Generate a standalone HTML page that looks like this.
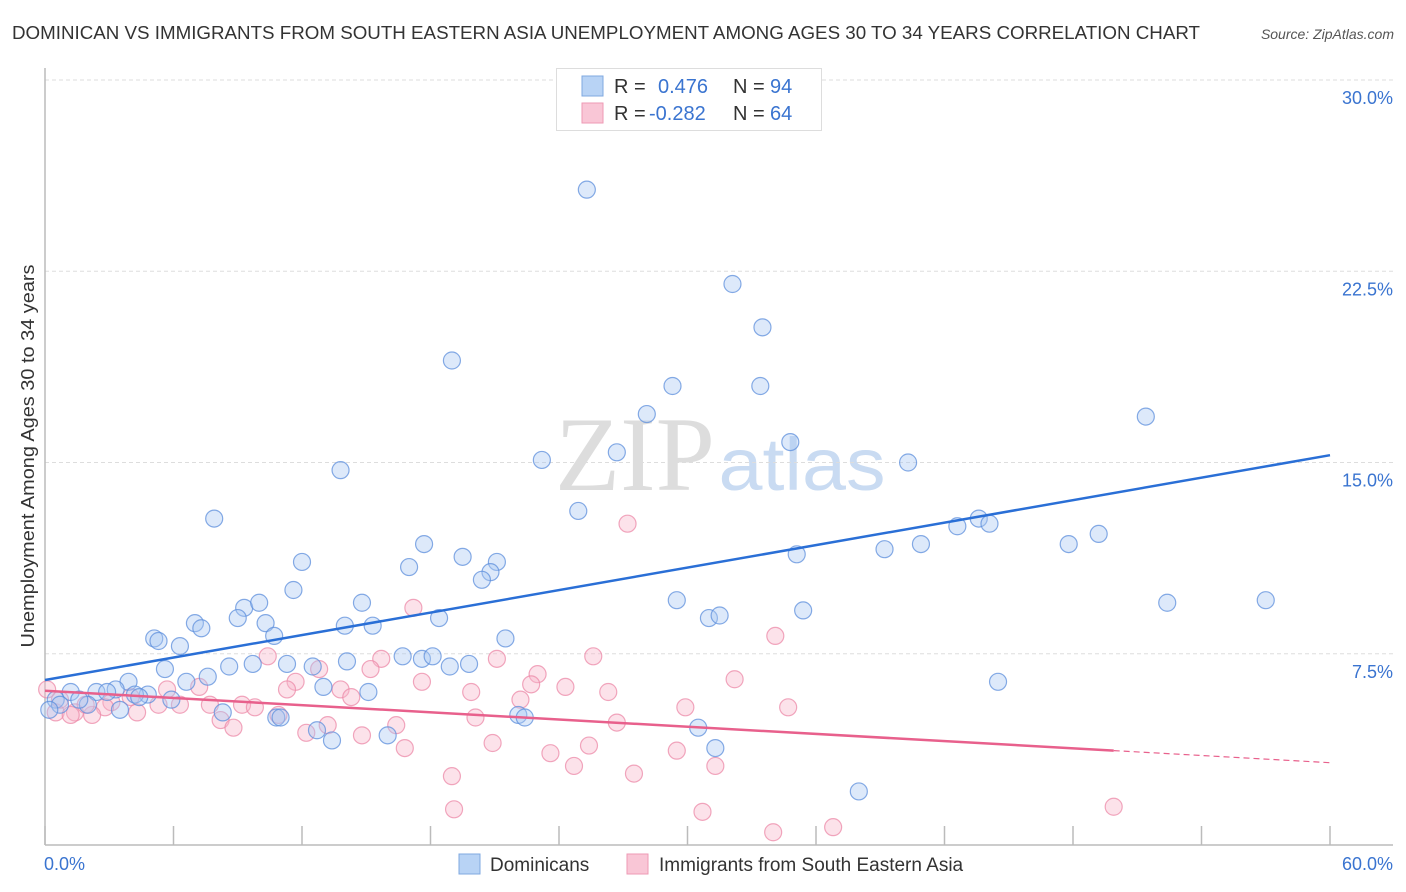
<!DOCTYPE html>
<html><head><meta charset="utf-8"><style>
body{margin:0;background:#fff;font-family:"Liberation Sans",sans-serif;}
svg{display:block}
</style></head><body>
<svg id="chart" width="1406" height="892" xmlns="http://www.w3.org/2000/svg">
<text x="12" y="39" font-size="18" textLength="1188" lengthAdjust="spacingAndGlyphs" fill="#333">DOMINICAN VS IMMIGRANTS FROM SOUTH EASTERN ASIA UNEMPLOYMENT AMONG AGES 30 TO 34 YEARS CORRELATION CHART</text>
<text x="1394" y="39" font-size="14" fill="#555" font-style="italic" text-anchor="end">Source: ZipAtlas.com</text>
<g>
<text x="635" y="490" font-size="106" textLength="160" lengthAdjust="spacingAndGlyphs" fill="#ddd" font-family="Liberation Serif, serif" text-anchor="middle">ZIP</text>
<text x="802" y="490" font-size="74" textLength="167" lengthAdjust="spacingAndGlyphs" fill="#c9dbf2" text-anchor="middle">atlas</text>
</g>
<g id="grid"></g>
<g id="axes"></g>
<g id="pts"></g>
<g id="lines"></g>
<text transform="translate(34,456) rotate(-90)" font-size="18" textLength="383" lengthAdjust="spacingAndGlyphs" fill="#333" text-anchor="middle">Unemployment Among Ages 30 to 34 years</text>
<g>
<rect x="556.5" y="68.5" width="265" height="62" fill="#fff" stroke="#ddd"/>
<rect x="582" y="76" width="21" height="20" fill="#b8d3f5" stroke="#7fa8e0"/>
<rect x="582" y="103" width="21" height="20" fill="#f9c6d6" stroke="#ee9ab4"/>
<text x="614" y="93" font-size="20" fill="#333">R =</text>
<text x="658" y="93" font-size="20" fill="#3a74d0">0.476</text>
<text x="733" y="93" font-size="20" fill="#333">N =</text>
<text x="770" y="93" font-size="20" fill="#3a74d0">94</text>
<text x="614" y="120" font-size="20" fill="#333">R =</text>
<text x="649" y="120" font-size="20" fill="#3a74d0">-0.282</text>
<text x="733" y="120" font-size="20" fill="#333">N =</text>
<text x="770" y="120" font-size="20" fill="#3a74d0">64</text>
</g>
<g>
<rect x="459" y="854" width="21" height="20" fill="#b8d3f5" stroke="#7fa8e0"/>
<text x="490" y="871" font-size="19" fill="#333">Dominicans</text>
<rect x="627" y="854" width="21" height="20" fill="#f9c6d6" stroke="#ee9ab4"/>
<text x="659" y="871" font-size="19" fill="#333">Immigrants from South Eastern Asia</text>
</g>
</svg>
<script>
const yTicks=[7.5,15,22.5,30];
const yTickLabels=["7.5%","15.0%","22.5%","30.0%"];
const xTickVals=[0,6,12,18,24,30,36,42,48,54,60];
const blueX=[25.3,32.1,33.5,19.0,29.3,33.4,28.1,51.4,34.8,23.2,26.7,40.3,13.8,7.9,24.9,43.6,44.1,42.6,49.2,47.8,39.2,40.9,17.7,19.5,35.1,21.1,12.0,17.0,20.8,20.4,11.6,52.4,57.0,29.5,9.3,10.0,14.8,7.0,9.0,7.3,10.3,10.7,15.3,14.0,35.4,31.0,31.5,18.4,5.1,5.3,6.3,21.5,16.7,17.6,18.1,19.8,18.9,14.1,11.3,9.7,8.6,5.6,7.6,12.5,6.6,44.5,13.0,3.9,15.1,0.5,1.2,2.4,3.3,4.8,4.2,2.9,2.0,3.5,5.9,8.3,10.8,11.0,12.7,13.4,16.0,22.1,22.4,30.5,31.3,38.0,4.4,0.7,0.2,1.6];
const blueY=[25.7,22.0,20.3,19.0,18.0,18.0,16.9,16.8,15.8,15.1,15.4,15.0,14.7,12.8,13.1,12.8,12.6,12.5,12.2,11.8,11.6,11.8,11.8,11.3,11.4,11.1,11.1,10.9,10.7,10.4,10.0,9.5,9.6,9.6,9.3,9.5,9.5,8.7,8.9,8.5,8.7,8.2,8.6,8.6,9.2,8.9,9.0,8.9,8.1,8.0,7.8,8.1,7.4,7.3,7.4,7.1,7.0,7.2,7.1,7.1,7.0,6.9,6.6,7.0,6.4,6.4,6.2,6.4,6.0,5.7,6.0,6.0,6.1,5.9,5.9,6.0,5.5,5.3,5.7,5.2,5.0,5.0,4.5,4.1,4.3,5.1,5.0,4.6,3.8,2.1,5.8,5.5,5.3,5.7];
const pinkX=[27.2,17.2,34.1,25.6,10.4,15.7,21.1,12.8,15.2,23.0,32.2,17.6,11.7,22.7,24.3,7.2,5.7,11.3,19.9,26.3,13.8,14.3,22.2,29.9,34.7,9.2,7.7,6.3,9.8,5.3,4.0,3.1,2.8,4.3,1.4,0.5,2.2,1.2,8.2,8.8,10.9,20.1,16.4,26.7,12.2,13.2,14.8,20.9,25.4,16.8,23.6,29.5,31.3,24.7,27.5,19.0,19.1,30.7,34.0,36.8,49.9,0.1,0.7,1.9];
const pinkY=[12.6,9.3,8.2,7.4,7.4,7.3,7.3,6.9,6.9,6.7,6.5,6.4,6.4,6.3,6.2,6.2,6.1,6.1,6.0,6.0,6.1,5.8,5.7,5.4,5.4,5.5,5.5,5.5,5.4,5.5,5.8,5.6,5.4,5.2,5.2,5.2,5.1,5.1,4.9,4.6,5.1,5.0,4.7,4.8,4.4,4.7,4.3,4.0,3.9,3.8,3.6,3.7,3.1,3.1,2.8,2.7,1.4,1.3,0.5,0.7,1.5,6.1,5.7,5.5];
const NS="http://www.w3.org/2000/svg";
const X0=45,X1=1330,Y0=845,YTOP=80;
const xs=v=>X0+v/60*(X1-X0);
const ys=v=>Y0-v/30*(Y0-YTOP);
function mk(tag,attrs,parent){const e=document.createElementNS(NS,tag);for(const k in attrs)e.setAttribute(k,attrs[k]);parent.appendChild(e);return e;}
const grid=document.getElementById('grid'),axes=document.getElementById('axes');
yTicks.forEach((t,i)=>{
  const l=mk('line',{x1:X0,x2:1393,y1:ys(t),y2:ys(t),stroke:'#ddd','stroke-dasharray':'4,3'},grid);
  
  
  const tx=mk('text',{x:1393,y:ys(t)+24,'font-size':18,fill:'#3a74d0','text-anchor':'end'},grid);
  tx.textContent=yTickLabels[i];
  
  
});
const ax=mk('line',{x1:X0,x2:X0,y1:68,y2:Y0,stroke:'#bbb','stroke-width':1.5},axes);


const bx=mk('line',{x1:X0,x2:1393,y1:Y0,y2:Y0,stroke:'#bbb','stroke-width':1.5},axes);


xTickVals.forEach(t=>{
  const l=mk('line',{x1:xs(t),x2:xs(t),y1:826,y2:Y0,stroke:'#bbb','stroke-width':1.5},axes);
  
  
});
const xl0=mk('text',{x:44,y:870,'font-size':18,fill:'#3a74d0'},axes);xl0.textContent='0.0%';


const xl1=mk('text',{x:1393,y:870,'font-size':18,fill:'#3a74d0','text-anchor':'end'},axes);xl1.textContent='60.0%';


const pts=document.getElementById('pts');
function drawPts(X,Y,fill,stroke,name){
  X.forEach((x,i)=>{
    const c=mk('circle',{cx:xs(x),cy:ys(Y[i]),r:8.5,fill:fill,'fill-opacity':0.4,stroke:stroke,'stroke-opacity':0.75,'stroke-width':1.2},pts);
    
    
  });
}
drawPts(pinkX,pinkY,'#f7b6ca','#ec8aa8','pink-point');
drawPts(blueX,blueY,'#a9c9f2','#5d8fdc','blue-point');
function fit(X,Y){const n=X.length;let mx=0,my=0;X.forEach((x,i)=>{mx+=x;my+=Y[i];});mx/=n;my/=n;let sxy=0,sxx=0;X.forEach((x,i)=>{sxy+=(x-mx)*(Y[i]-my);sxx+=(x-mx)*(x-mx);});const b=sxy/sxx;return [my-b*mx,b];}
const lines=document.getElementById('lines');
const bf=fit(blueX,blueY);
const bl=mk('line',{x1:xs(0),y1:ys(bf[0]),x2:xs(60),y2:ys(bf[0]+bf[1]*60),stroke:'#2a6fd6','stroke-width':2.5},lines);


const pf=fit(pinkX,pinkY);
const pmax=Math.max(...pinkX);
const pl=mk('line',{x1:xs(0),y1:ys(pf[0]),x2:xs(pmax),y2:ys(pf[0]+pf[1]*pmax),stroke:'#e8608c','stroke-width':2.5},lines);


const pd=mk('line',{x1:xs(pmax),y1:ys(pf[0]+pf[1]*pmax),x2:xs(60),y2:ys(pf[0]+pf[1]*60),stroke:'#e8608c','stroke-width':1.2,'stroke-dasharray':'6,4'},lines);


</script>
</body></html>
